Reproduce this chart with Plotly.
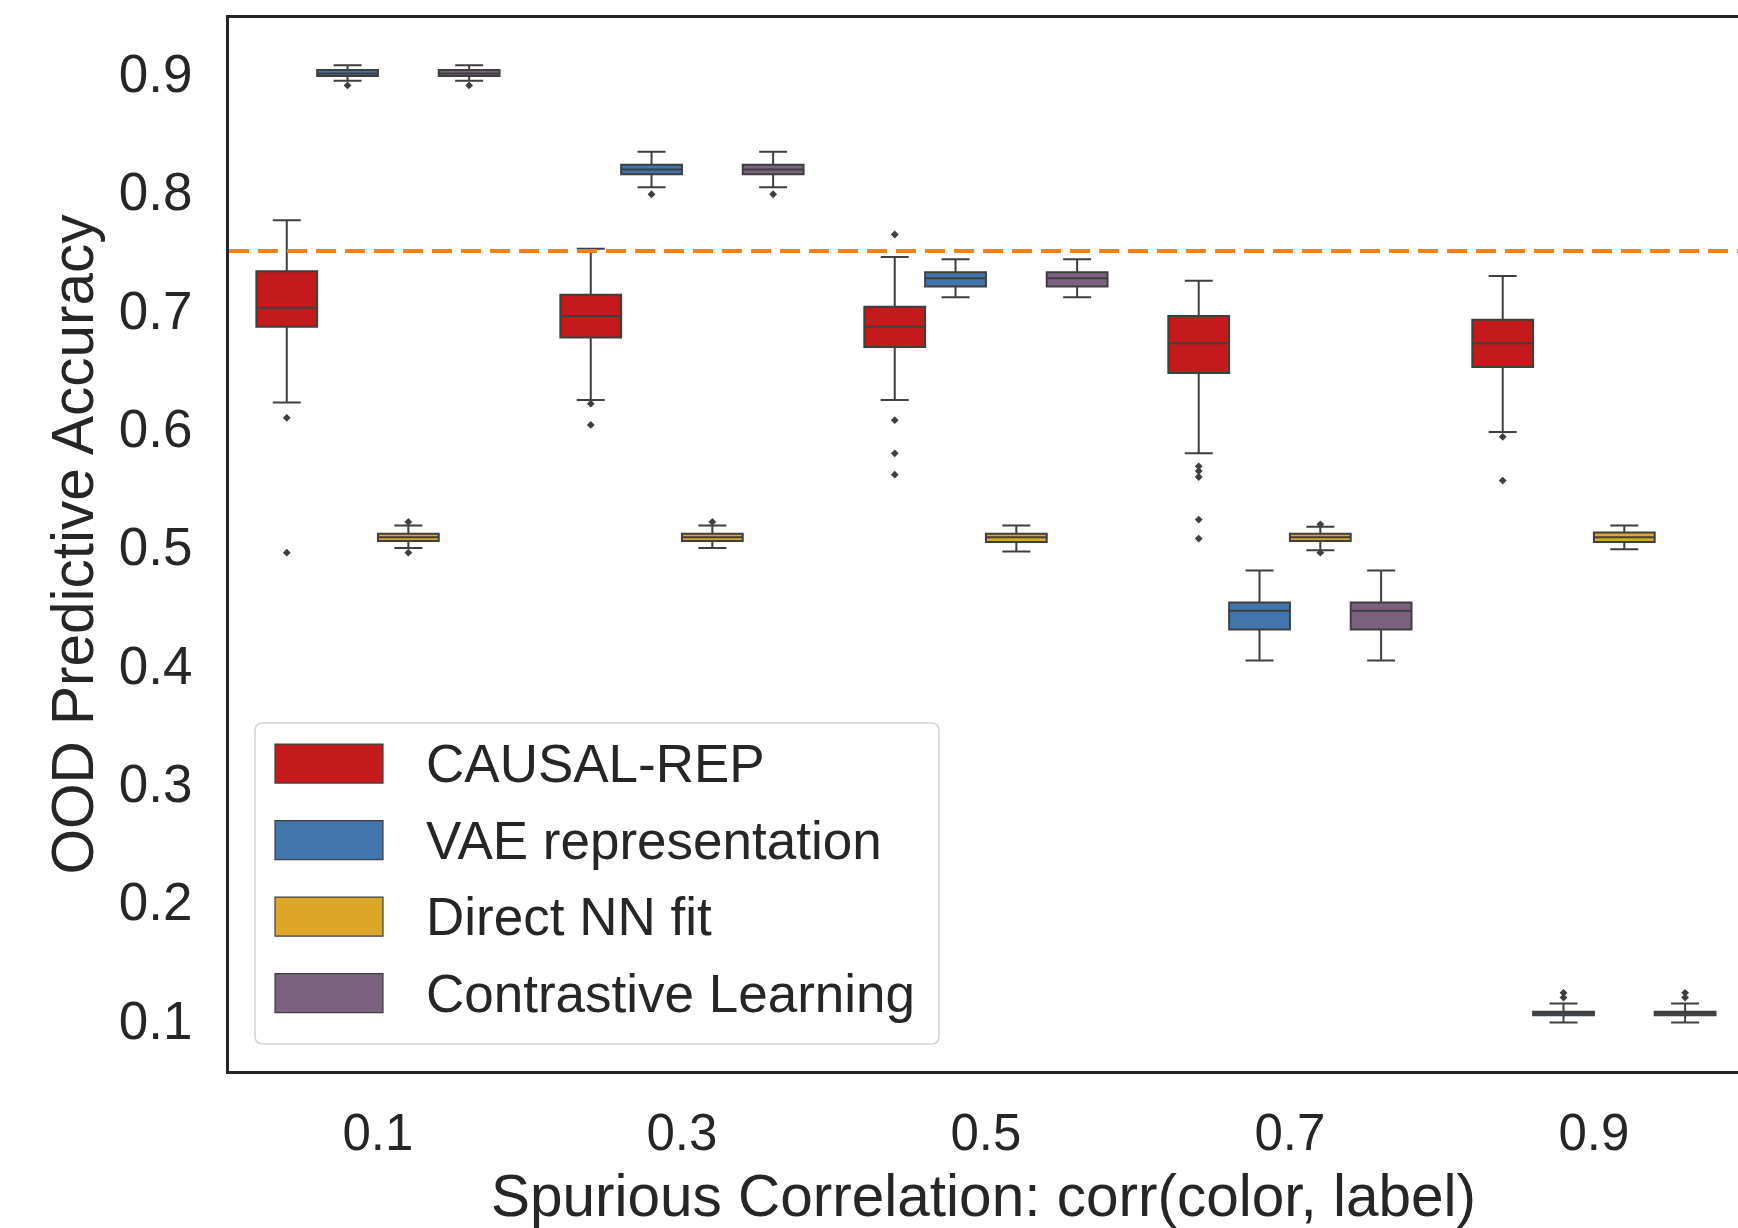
import plotly.graph_objects as go

# ---------------- data ----------------
categories = ["0.1", "0.3", "0.5", "0.7", "0.9"]
methods = ["CAUSAL-REP", "VAE representation", "Direct NN fit", "Contrastive Learning"]
colors = ["#C41A1C", "#4275AC", "#DCA628", "#7B6380"]

causal_upper = [0.776, 0.752, 0.745, 0.725, 0.729]
causal_q3 = [0.733, 0.713, 0.703, 0.695, 0.692]
causal_median = [0.702, 0.695, 0.686, 0.672, 0.672]
causal_q1 = [0.686, 0.677, 0.669, 0.647, 0.652]
causal_lower = [0.622, 0.624, 0.624, 0.579, 0.597]
causal_outliers = [[0.609, 0.495], [0.621, 0.603], [0.764, 0.607, 0.579, 0.561],
                   [0.568, 0.564, 0.559, 0.523, 0.507], [0.593, 0.556]]

vae_upper = [0.907, 0.834, 0.743, 0.480, 0.114]
vae_q3 = [0.903, 0.823, 0.732, 0.453, 0.107]
vae_median = [0.900, 0.819, 0.727, 0.446, 0.106]
vae_q1 = [0.898, 0.815, 0.720, 0.430, 0.104]
vae_lower = [0.894, 0.804, 0.711, 0.404, 0.098]
vae_outliers = [[0.890], [0.798], [], [], [0.123, 0.119]]

nn_upper = [0.518, 0.518, 0.518, 0.517, 0.518]
nn_q3 = [0.511, 0.511, 0.511, 0.511, 0.512]
nn_median = [0.508, 0.508, 0.508, 0.508, 0.508]
nn_q1 = [0.505, 0.505, 0.504, 0.505, 0.504]
nn_lower = [0.499, 0.499, 0.496, 0.497, 0.498]
nn_outliers = [[0.521, 0.495], [0.521], [], [0.519, 0.495], []]

cl_upper = [0.907, 0.834, 0.743, 0.480, 0.114]
cl_q3 = [0.903, 0.823, 0.732, 0.453, 0.107]
cl_median = [0.900, 0.819, 0.727, 0.446, 0.106]
cl_q1 = [0.898, 0.815, 0.720, 0.430, 0.104]
cl_lower = [0.894, 0.804, 0.711, 0.404, 0.098]
cl_outliers = [[0.890], [0.798], [], [], [0.123, 0.119]]

baseline = 0.75
y_ticks = [0.1, 0.2, 0.3, 0.4, 0.5, 0.6, 0.7, 0.8, 0.9]
y_ticktext = ["0.1", "0.2", "0.3", "0.4", "0.5", "0.6", "0.7", "0.8", "0.9"]

stats = [
    (causal_q1, causal_median, causal_q3, causal_lower, causal_upper, causal_outliers),
    (vae_q1, vae_median, vae_q3, vae_lower, vae_upper, vae_outliers),
    (nn_q1, nn_median, nn_q3, nn_lower, nn_upper, nn_outliers),
    (cl_q1, cl_median, cl_q3, cl_lower, cl_upper, cl_outliers),
]

# ---------------- layout constants ----------------
W, H = 1738, 1228
ML, MR, MT, MB = 229, 0, 18, 157
EDGE = "#3f3f3f"
TEXT = "#262626"
n_hue = len(methods)
hue_w = 0.8 / n_hue

fig = go.Figure()
for m, (name, col, st) in enumerate(zip(methods, colors, stats)):
    q1, med, q3, lo, hi, outs = st
    off = (m - (n_hue - 1) / 2) * hue_w
    xs = [i + off for i in range(len(categories))]
    fig.add_trace(go.Box(
        x=xs, q1=q1, median=med, q3=q3, lowerfence=lo, upperfence=hi,
        width=hue_w, whiskerwidth=0.46, fillcolor=col,
        line=dict(color=EDGE, width=2), boxpoints=False,
        name=name, showlegend=False, hoverinfo="skip",
    ))
    ox, oy = [], []
    for i, vals in enumerate(outs):
        for v in vals:
            ox.append(i + off)
            oy.append(v)
    fig.add_trace(go.Scatter(
        x=ox, y=oy, mode="markers", showlegend=False, hoverinfo="skip",
        marker=dict(symbol="diamond", size=6, color=EDGE, line=dict(width=0)),
    ))

# helper: pixel -> paper
pw = W - ML - MR
ph = H - MT - MB
def px(x):
    return (x - ML) / pw
def py(y):
    return (H - MB - y) / ph

shapes = [dict(type="line", xref="paper", x0=0, x1=1, yref="y", y0=baseline, y1=baseline,
               line=dict(color="#FF7F0E", width=4, dash="20px,9px"))]

# custom legend
lx0, lx1, ly0, ly1, r = 255, 939, 723, 1044, 8
path = (f"M {px(lx0 + r)},{py(ly0)} L {px(lx1 - r)},{py(ly0)} "
        f"Q {px(lx1)},{py(ly0)} {px(lx1)},{py(ly0 + r)} "
        f"L {px(lx1)},{py(ly1 - r)} Q {px(lx1)},{py(ly1)} {px(lx1 - r)},{py(ly1)} "
        f"L {px(lx0 + r)},{py(ly1)} Q {px(lx0)},{py(ly1)} {px(lx0)},{py(ly1 - r)} "
        f"L {px(lx0)},{py(ly0 + r)} Q {px(lx0)},{py(ly0)} {px(lx0 + r)},{py(ly0)} Z")
shapes.append(dict(type="path", xref="paper", yref="paper", path=path,
                   fillcolor="rgba(255,255,255,0.85)", line=dict(color="#d4d4d4", width=1.5)))
annotations = []
row0, row_step, patch_h = 763.6, 76.5, 39
for i, (name, col) in enumerate(zip(methods, colors)):
    cy = row0 + i * row_step
    shapes.append(dict(type="rect", xref="paper", yref="paper",
                       x0=px(275), x1=px(383), y0=py(cy + patch_h / 2), y1=py(cy - patch_h / 2),
                       fillcolor=col, line=dict(color=EDGE, width=1.2)))
    annotations.append(dict(xref="paper", yref="paper", x=px(424), y=py(cy), text=name,
                            showarrow=False, xanchor="left", yanchor="middle",
                            font=dict(size=53, color=TEXT)))

fig.update_layout(
    width=W, height=H,
    margin=dict(l=ML, r=MR, t=MT, b=MB, pad=0),
    paper_bgcolor="white", plot_bgcolor="white",
    font=dict(family="Liberation Sans, Arial, sans-serif", color=TEXT),
    shapes=shapes, annotations=annotations,
    xaxis=dict(
        range=[-0.49, 4.474], tickvals=list(range(len(categories))), ticktext=categories,
        showgrid=False, zeroline=False, showline=True, mirror=True,
        linecolor=TEXT, linewidth=3, ticks="outside", ticklen=15,
        tickcolor="rgba(0,0,0,0)", tickfont=dict(size=51, color=TEXT),
        title=dict(text="Spurious Correlation: corr(color, label)",
                   font=dict(size=58.5, color=TEXT), standoff=18),
        automargin=False,
    ),
    yaxis=dict(
        range=[0.0569, 0.947], tickvals=y_ticks, ticktext=y_ticktext,
        showgrid=False, zeroline=False, showline=True, mirror=False,
        linecolor=TEXT, linewidth=3, ticks="outside", ticklen=23,
        tickcolor="rgba(0,0,0,0)", tickfont=dict(size=53, color=TEXT),
        title=dict(text="OOD Predictive Accuracy", font=dict(size=58.5, color=TEXT), standoff=7),
        automargin=False,
    ),
)

fig.write_html("out.html")
